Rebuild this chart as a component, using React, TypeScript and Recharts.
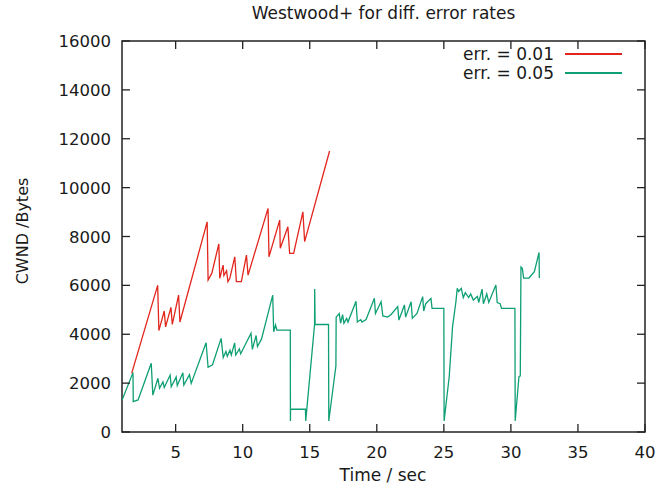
import React from 'react';
import {
  LineChart,
  Line,
  XAxis,
  YAxis,
  ReferenceArea,
} from 'recharts';

// time (sec) / cwnd (bytes)
const err01Time = [1.72, 3.66, 3.75, 4.15, 4.25, 4.65, 4.75, 5.22, 5.32, 7.35, 7.42, 7.7, 8.22, 8.29, 8.54, 8.6, 8.8, 8.9, 9.04, 9.41, 9.53, 9.9, 10.28, 10.4, 11.89, 11.96, 12.76, 12.8, 13.37, 13.5, 13.8, 14.49, 14.62, 16.48];
const err01Cwnd = [2400, 6000, 4150, 4950, 4300, 5100, 4400, 5600, 4500, 8600, 6220, 6500, 7700, 6290, 6830, 6400, 6600, 6150, 6290, 7170, 6150, 6150, 7240, 6420, 9150, 7170, 8670, 7520, 8400, 7310, 7310, 9010, 7790, 11500];

const err05Time = [1.0, 1.82, 1.84, 2.2, 3.18, 3.3, 3.68, 3.8, 4.05, 4.15, 4.59, 4.67, 5.04, 5.12, 5.54, 5.61, 6.03, 6.16, 7.27, 7.42, 7.75, 8.39, 8.55, 8.75, 8.85, 9.05, 9.15, 9.4, 9.48, 9.75, 9.85, 10.62, 10.72, 11.0, 11.1, 11.4, 12.24, 12.31, 12.45, 12.55, 13.55, 13.56, 13.57, 14.68, 14.7, 15.36, 15.37, 15.4, 16.4, 16.42, 16.95, 16.97, 17.2, 17.3, 17.45, 17.55, 17.75, 17.85, 18.45, 18.55, 18.8, 18.9, 19.2, 19.82, 19.9, 20.32, 20.45, 20.8, 21.05, 21.56, 21.65, 22.06, 22.15, 22.56, 22.65, 23.0, 23.42, 23.5, 23.65, 24.04, 24.12, 25.0, 25.02, 25.4, 25.65, 25.9, 26.0, 26.1, 26.3, 26.45, 26.6, 26.85, 27.0, 27.2, 27.5, 27.6, 27.85, 27.95, 28.2, 28.35, 28.88, 28.98, 29.2, 29.3, 30.3, 30.32, 30.6, 30.7, 30.75, 30.85, 30.95, 31.35, 31.75, 32.1, 32.12];
const err05Cwnd = [1300, 2430, 1240, 1310, 2810, 1510, 2200, 1790, 2050, 1820, 2330, 1850, 2250, 1900, 2420, 1920, 2350, 1990, 3650, 2650, 2750, 3830, 3050, 3300, 3100, 3350, 3150, 3650, 3150, 3400, 3200, 4040, 3380, 3950, 3500, 3800, 5600, 4100, 4380, 4170, 4170, 450, 930, 930, 450, 4400, 5850, 4400, 4400, 450, 2700, 4700, 4850, 4450, 4800, 4450, 4650, 4500, 5350, 4500, 4600, 4500, 4600, 5470, 4850, 5330, 4750, 4700, 4800, 5130, 4580, 5200, 4700, 5330, 4650, 4850, 5540, 4950, 5250, 5470, 5060, 5060, 450, 2260, 4310, 5330, 5880, 5750, 5880, 5500, 5700, 5500, 5650, 5400, 5550, 5300, 5850, 5250, 5650, 5300, 6015, 5300, 5250, 5060, 5060, 450, 2260, 2300, 6750, 6700, 6300, 6300, 6560, 7350, 6300];

const xTicks = [5, 10, 15, 20, 25, 30, 35, 40];
const yTicks = [0, 2000, 4000, 6000, 8000, 10000, 12000, 14000, 16000];

const legendNames = ['err. = 0.01', 'err. = 0.05'];

const RED = '#e2261d';
const GREEN = '#0f9f74';
const FONT = '"DejaVu Sans", sans-serif';

const toRows = (t: number[], v: number[]) => t.map((x, i) => ({ t: x, cwnd: v[i] }));
const err01 = toRows(err01Time, err01Cwnd);
const err05 = toRows(err05Time, err05Cwnd);

const PLOT_W = 523;
const PLOT_H = 391;
const TICK = 8;

function XTick(props: any) {
  const { x, y, payload } = props;
  return (
    <g>
      <line x1={x} x2={x} y1={y} y2={y - TICK} stroke="#222" strokeWidth={1.3} />
      <line x1={x} x2={x} y1={y - PLOT_H} y2={y - PLOT_H + TICK} stroke="#222" strokeWidth={1.3} />
      <text x={x} y={y + 26} textAnchor="middle" fontSize={16.5} fontFamily={FONT} fill="#1a1a1a">
        {payload.value}
      </text>
    </g>
  );
}

function YTick(props: any) {
  const { x, y, payload } = props;
  return (
    <g>
      <line x1={x} x2={x + TICK} y1={y} y2={y} stroke="#222" strokeWidth={1.3} />
      <line x1={x + PLOT_W} x2={x + PLOT_W - TICK} y1={y} y2={y} stroke="#222" strokeWidth={1.3} />
      <text x={x - 11} y={y + 6} textAnchor="end" fontSize={16.5} fontFamily={FONT} fill="#1a1a1a">
        {payload.value}
      </text>
    </g>
  );
}

function YLabel() {
  return (
    <text
      x={22}
      y={231}
      transform="rotate(-90 22 231)"
      textAnchor="middle"
      dominantBaseline="central"
      fontSize={16}
      fontFamily={FONT}
      fill="#1a1a1a"
    >
      CWND /Bytes
    </text>
  );
}

function XLabel() {
  return (
    <text x={383} y={481} textAnchor="middle" fontSize={17} fontFamily={FONT} fill="#1a1a1a">
      Time / sec
    </text>
  );
}

export default function App() {
  const colors = [RED, GREEN];
  return (
    <div style={{ position: 'absolute', left: 0, top: 0, width: 657, height: 486, background: '#fff' }}>
      <div
        style={{
          position: 'absolute',
          top: 3,
          left: 122,
          width: PLOT_W,
          textAlign: 'center',
          fontFamily: FONT,
          fontSize: 17,
          color: '#1a1a1a',
        }}
      >
        Westwood+ for diff. error rates
      </div>
      <div
        style={{
          position: 'absolute',
          top: 44,
          right: 35,
          fontFamily: FONT,
          fontSize: 17,
          color: '#1a1a1a',
          zIndex: 2,
        }}
      >
        {legendNames.map((name, i) => (
          <div key={name} style={{ display: 'flex', alignItems: 'center', justifyContent: 'flex-end', height: 19 }}>
            <span>{name}</span>
            <span
              style={{
                display: 'inline-block',
                width: 57,
                height: 2,
                background: colors[i],
                marginLeft: 11,
              }}
            />
          </div>
        ))}
      </div>
      <LineChart width={657} height={486} data={err05} margin={{ top: 41, right: 12, left: 0, bottom: 0 }}>
        <XAxis
          dataKey="t"
          type="number"
          domain={[1, 40]}
          ticks={xTicks}
          allowDataOverflow
          height={54}
          tickSize={0}
          tickMargin={0}
          axisLine={false}
          tickLine={false}
          tick={<XTick />}
          label={<XLabel />}
        />
        <YAxis
          type="number"
          domain={[0, 16000]}
          ticks={yTicks}
          allowDataOverflow
          width={122}
          tickSize={0}
          tickMargin={0}
          axisLine={false}
          tickLine={false}
          tick={<YTick />}
          label={<YLabel />}
        />
        <ReferenceArea
          x1={1}
          x2={40}
          y1={0}
          y2={16000}
          fill="#fff"
          fillOpacity={0}
          stroke="#222"
          strokeOpacity={1}
          strokeWidth={1.5}
          ifOverflow="visible"
        />
        <Line
          data={err01}
          dataKey="cwnd"
          name="err. = 0.01"
          stroke={RED}
          strokeWidth={1.3}
          dot={false}
          isAnimationActive={false}
          type="linear"
        />
        <Line
          data={err05}
          dataKey="cwnd"
          name="err. = 0.05"
          stroke={GREEN}
          strokeWidth={1.3}
          dot={false}
          isAnimationActive={false}
          type="linear"
        />
      </LineChart>
    </div>
  );
}
